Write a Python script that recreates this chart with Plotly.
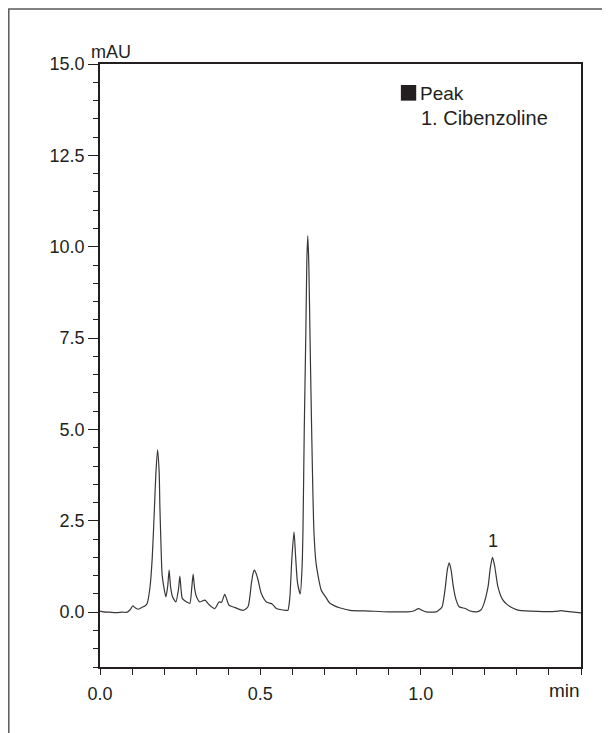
import plotly.graph_objects as go

# Retention time (min) and absorbance (mAU)
time_min = [0.000, 0.010, 0.030, 0.050, 0.070, 0.085, 0.095, 0.102, 0.110, 0.119,
            0.130, 0.140, 0.147, 0.156, 0.163, 0.170, 0.1743, 0.1795, 0.1846, 0.1867,
            0.190, 0.194, 0.2054, 0.211, 0.2156, 0.220, 0.2262, 0.2365, 0.245, 0.249,
            0.253, 0.257, 0.270, 0.280, 0.286, 0.2905, 0.295, 0.301, 0.311, 0.327,
            0.342, 0.358, 0.371, 0.379, 0.389, 0.4025, 0.420, 0.446, 0.4615, 0.472,
            0.477, 0.4815, 0.486, 0.493, 0.503, 0.519, 0.5375, 0.550, 0.581, 0.586,
            0.592, 0.5985, 0.605, 0.6095, 0.616, 0.6245, 0.630, 0.633, 0.637, 0.642,
            0.645, 0.648, 0.651, 0.655, 0.660, 0.667, 0.674, 0.690, 0.705, 0.716,
            0.730, 0.747, 0.780, 0.841, 0.900, 0.960, 0.980, 0.993, 1.005, 1.017,
            1.048, 1.060, 1.067, 1.077, 1.083, 1.089, 1.095, 1.102, 1.110, 1.120,
            1.139, 1.152, 1.175, 1.188, 1.196, 1.210, 1.217, 1.224, 1.231, 1.241,
            1.255, 1.271, 1.290, 1.307, 1.364, 1.420, 1.437, 1.455, 1.500]
absorbance = [0.03, 0.01, 0.00, -0.01, 0.00, 0.00, 0.08, 0.17, 0.12, 0.08,
              0.13, 0.17, 0.24, 0.69, 1.50, 2.90, 3.80, 4.44, 3.80, 2.90,
              1.90, 1.00, 0.42, 0.70, 1.15, 0.70, 0.42, 0.28, 0.65, 0.99,
              0.60, 0.37, 0.28, 0.24, 0.65, 1.04, 0.65, 0.42, 0.28, 0.33,
              0.19, 0.10, 0.28, 0.27, 0.49, 0.19, 0.13, 0.05, 0.15, 0.78,
              1.05, 1.15, 1.08, 0.88, 0.51, 0.28, 0.22, 0.10, 0.05, 0.05,
              0.40, 1.50, 2.20, 1.60, 0.80, 0.50, 1.20, 2.25, 5.00, 7.70,
              9.60, 10.30, 9.60, 7.50, 5.00, 2.25, 1.33, 0.60, 0.40, 0.25,
              0.18, 0.12, 0.05, 0.03, 0.01, 0.01, 0.04, 0.10, 0.05, 0.01,
              0.01, 0.08, 0.15, 0.69, 1.15, 1.35, 1.15, 0.69, 0.35, 0.15,
              0.10, 0.04, 0.01, 0.06, 0.20, 0.69, 1.20, 1.50, 1.25, 0.69,
              0.35, 0.20, 0.10, 0.05, 0.02, 0.02, 0.04, 0.02, -0.02]

# Peak annotation
peak_numbers = ["1"]
peak_times = [1.224]
peak_heights = [1.50]
legend_title = "Peak"
legend_entries = ["1. Cibenzoline"]

# Axis ticks
x_tickvals = [0.0, 0.5, 1.0]
x_ticktext = ["0.0", "0.5", "1.0"]
y_tickvals = [0.0, 2.5, 5.0, 7.5, 10.0, 12.5, 15.0]
y_ticktext = ["0.0", "2.5", "5.0", "7.5", "10.0", "12.5", "15.0"]

INK = "#231f20"
FONT = "Liberation Sans"

fig = go.Figure()
fig.add_trace(go.Scatter(
    x=time_min, y=absorbance, mode="lines",
    line=dict(color="#3a3637", width=1.2, shape="spline", smoothing=0.6),
    showlegend=False, hoverinfo="skip"))

for lbl, t, h in zip(peak_numbers, peak_times, peak_heights):
    fig.add_annotation(x=t, y=h, text=lbl, showarrow=False, xref="x", yref="y",
                       yanchor="middle", yshift=16,
                       font=dict(family=FONT, size=18, color=INK))

# axis unit labels
fig.add_annotation(x=-0.023, y=1, xref="paper", yref="paper", text="mAU",
                   showarrow=False, xanchor="left", yanchor="bottom", yshift=0,
                   font=dict(family=FONT, size=18, color=INK))
fig.add_annotation(x=1.003, y=0, xref="paper", yref="paper", text="min",
                   showarrow=False, xanchor="right", yanchor="top", yshift=-11,
                   font=dict(family=FONT, size=19, color=INK))

# legend block
fig.add_shape(type="rect", xref="paper", yref="paper",
              x0=0.6255, x1=0.6574, y0=0.9392, y1=0.9652,
              fillcolor=INK, line=dict(width=0))
fig.add_annotation(x=0.662, y=0.9514, xref="paper", yref="paper", text=legend_title,
                   showarrow=False, xanchor="left", yanchor="middle",
                   font=dict(family=FONT, size=19, color=INK))
for i, entry in enumerate(legend_entries):
    fig.add_annotation(x=0.664, y=0.911 - i * 0.04, xref="paper", yref="paper",
                       text=entry, showarrow=False, xanchor="left", yanchor="middle",
                       font=dict(family=FONT, size=20, color=INK))

# outer frame of the figure (page body adds an 8px offset)
fig.add_shape(type="rect", xref="paper", yref="paper",
              x0=-0.1896, x1=1.2, y0=-0.2, y1=1.0912,
              line=dict(color="#5a5a5a", width=1.5), fillcolor="rgba(0,0,0,0)",
              layer="below")

fig.update_layout(
    width=602, height=725,
    margin=dict(l=92, r=29, t=56, b=66),
    paper_bgcolor="white", plot_bgcolor="white",
    font=dict(family=FONT, size=18, color=INK),
    xaxis=dict(range=[0, 1.5], tickvals=x_tickvals, ticktext=x_ticktext,
               showgrid=False, zeroline=False, showline=True, mirror=True,
               linecolor=INK, linewidth=1.5, ticks="outside", ticklen=6,
               tickwidth=1, tickcolor=INK, ticklabelstandoff=4,
               minor=dict(dtick=0.1, tick0=0, ticks="outside", ticklen=6,
                          tickwidth=1, tickcolor=INK, showgrid=False),
               tickfont=dict(family=FONT, size=18, color=INK)),
    yaxis=dict(range=[-1.5, 15], tickvals=y_tickvals, ticktext=y_ticktext,
               showgrid=False, zeroline=False, showline=True, mirror=True,
               linecolor=INK, linewidth=1.5, ticks="outside", ticklen=10,
               tickwidth=1, tickcolor=INK,
               minor=dict(dtick=0.5, tick0=0, ticks="outside", ticklen=5,
                          tickwidth=1, tickcolor=INK, showgrid=False),
               tickfont=dict(family=FONT, size=18, color=INK)),
)

fig.write_html("out.html")
